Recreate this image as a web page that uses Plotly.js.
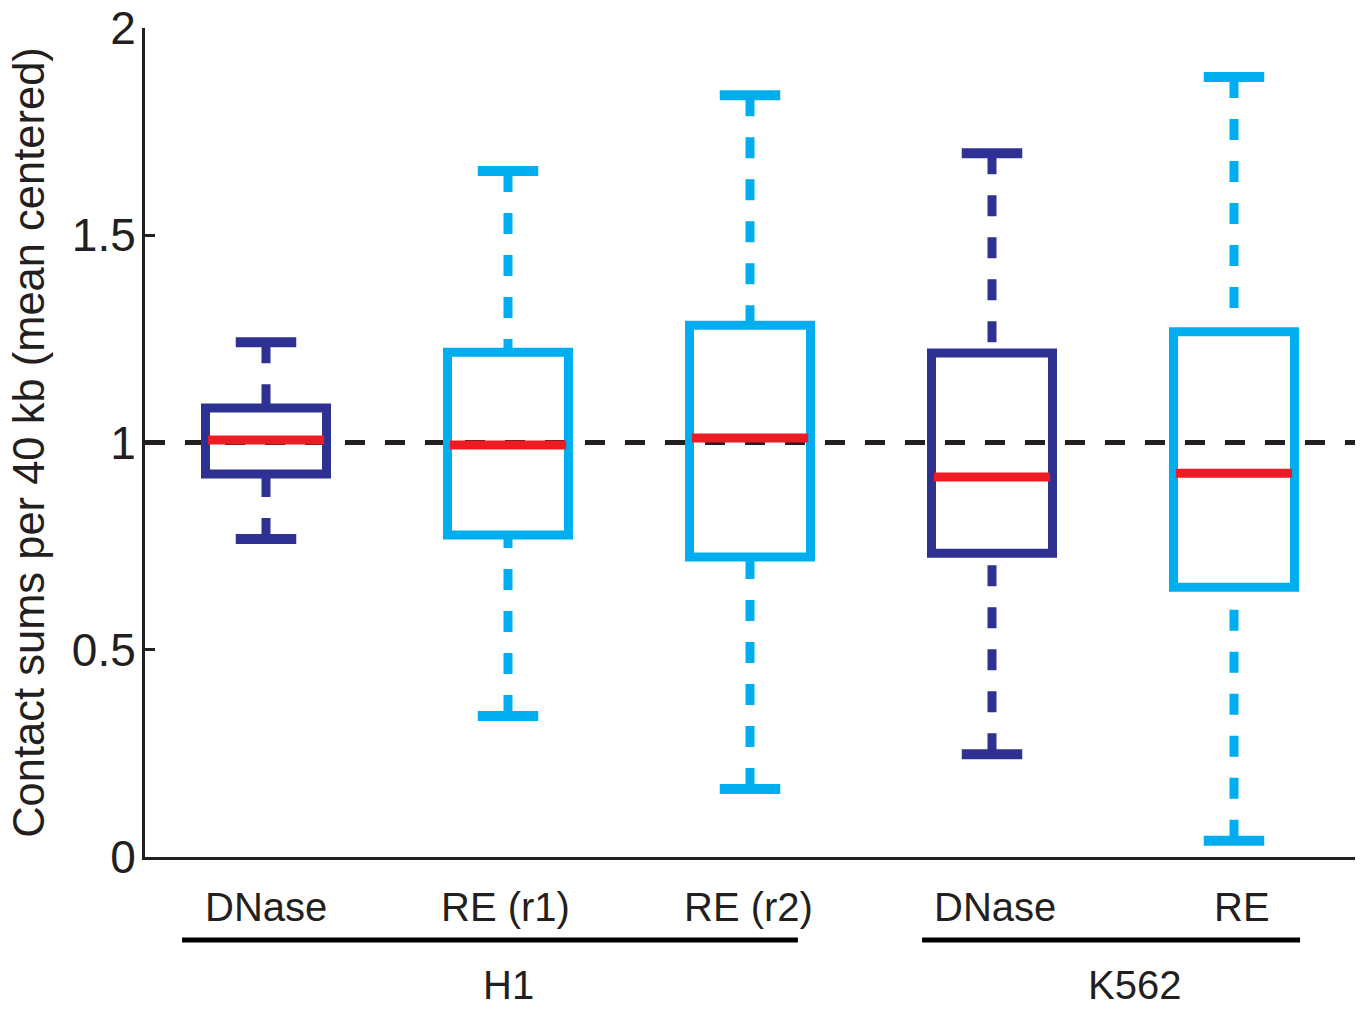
<!DOCTYPE html>
<html>
<head>
<meta charset="utf-8">
<script src="https://cdn.plot.ly/plotly-3.0.1.min.js"></script>
<style>html,body{margin:0;padding:0;background:#fff;}#chart{width:1366px;height:1009px;}</style>
</head>
<body>
<div id="chart"></div>
<script>
// ---- data ----
const categories = ["DNase", "RE (r1)", "RE (r2)", "DNase", "RE"];
const groups = ["H1", "H1", "H1", "K562", "K562"];
const lowerWhisker = [0.767, 0.340, 0.164, 0.248, 0.039];
const q1Values     = [0.924, 0.777, 0.724, 0.733, 0.651];
const medianValues = [1.006, 0.994, 1.011, 0.917, 0.926];
const q3Values     = [1.083, 1.218, 1.283, 1.216, 1.267];
const upperWhisker = [1.242, 1.655, 1.838, 1.698, 1.882];
const boxColors = ["#2e3192", "#00aeef", "#00aeef", "#2e3192", "#00aeef"];
const referenceValue = 1;
const yTicks = [0, 0.5, 1, 1.5, 2];
const yTickText = ["0", "0.5", "1", "1.5", "2"];

// ---- styling ----
const FONT = "Liberation Sans, Arial, Helvetica, sans-serif";
const TEXT_COLOR = "#231f20";
const MEDIAN_COLOR = "#ed1c24";
const BOX_HALF = 0.25;
const CAP_HALF = 0.125;
const LW = 9;
const labelShift = [0, -3, -2, 3, 8];

const traces = [];
categories.forEach((c, i) => {
  const x = i + 1;
  const col = boxColors[i];
  // whiskers (dashed, starting from cap)
  traces.push({x: [x, x], y: [upperWhisker[i], q3Values[i]], mode: "lines",
    line: {color: col, width: LW, dash: "21px,21px"}, hoverinfo: "skip"});
  traces.push({x: [x, x], y: [lowerWhisker[i], q1Values[i]], mode: "lines",
    line: {color: col, width: LW, dash: "21px,21px"}, hoverinfo: "skip"});
  // caps
  traces.push({x: [x - CAP_HALF, x + CAP_HALF], y: [upperWhisker[i], upperWhisker[i]], mode: "lines",
    line: {color: col, width: LW + 1}, hoverinfo: "skip"});
  traces.push({x: [x - CAP_HALF, x + CAP_HALF], y: [lowerWhisker[i], lowerWhisker[i]], mode: "lines",
    line: {color: col, width: LW + 1}, hoverinfo: "skip"});
  // box (path starts mid-bottom so all corners are joined)
  traces.push({x: [x, x + BOX_HALF, x + BOX_HALF, x - BOX_HALF, x - BOX_HALF, x],
    y: [q1Values[i], q1Values[i], q3Values[i], q3Values[i], q1Values[i], q1Values[i]], mode: "lines",
    line: {color: col, width: LW}, hoverinfo: "skip"});
  // median
  traces.push({x: [x - BOX_HALF + 0.01, x + BOX_HALF - 0.01], y: [medianValues[i], medianValues[i]], mode: "lines",
    line: {color: MEDIAN_COLOR, width: LW}, hoverinfo: "skip"});
});

// category + group annotations
const annotations = categories.map((c, i) => ({
  x: i + 1, y: -0.0603, xref: "x", yref: "paper", text: c, showarrow: false, xshift: labelShift[i],
  xanchor: "center", yanchor: "middle", font: {family: FONT, size: 40, color: TEXT_COLOR}
}));
const groupNames = [...new Set(groups)];
const shapes = [
  {type: "line", xref: "paper", yref: "y", x0: 0, x1: 1, y0: referenceValue, y1: referenceValue,
   line: {color: "#231f20", width: 5, dash: "20px,20px"}, layer: "below"}
];
const groupSpan = {H1: [0.653, 3.198], K562: [3.711, 5.273]};
const groupLabelX = {H1: 2, K562: 4.59};
groupNames.forEach(g => {
  shapes.push({type: "line", xref: "x", yref: "paper", x0: groupSpan[g][0], x1: groupSpan[g][1],
    y0: -0.1001, y1: -0.1001, line: {color: "#000", width: 5}});
  annotations.push({x: groupLabelX[g], y: -0.1544, xref: "x", yref: "paper", text: g, showarrow: false,
    xanchor: "center", yanchor: "middle", font: {family: FONT, size: 40, color: TEXT_COLOR}});
});

const layout = {
  width: 1366, height: 1009,
  margin: {l: 145, r: 11, t: 28, b: 152},
  paper_bgcolor: "#fff", plot_bgcolor: "#fff",
  showlegend: false,
  font: {family: FONT, color: TEXT_COLOR},
  xaxis: {range: [0.5, 5.5], showgrid: false, zeroline: false, showline: true, linecolor: "#231f20",
    linewidth: 3, ticks: "", showticklabels: false, fixedrange: true},
  yaxis: {range: [0, 2], tickvals: yTicks, ticktext: yTickText, showgrid: false, zeroline: false,
    showline: true, linecolor: "#231f20", linewidth: 3, ticks: "inside", ticklen: 10, tickwidth: 3,
    tickcolor: "#231f20", tickfont: {family: FONT, size: 46, color: TEXT_COLOR}, ticklabelstandoff: -3,
    title: {text: "Contact sums per 40 kb (mean centered)", font: {family: FONT, size: 43.5, color: TEXT_COLOR}, standoff: 14},
    automargin: false, fixedrange: true},
  shapes: shapes,
  annotations: annotations
};

Plotly.newPlot("chart", traces, layout, {displayModeBar: false, staticPlot: true});
</script>
</body>
</html>
